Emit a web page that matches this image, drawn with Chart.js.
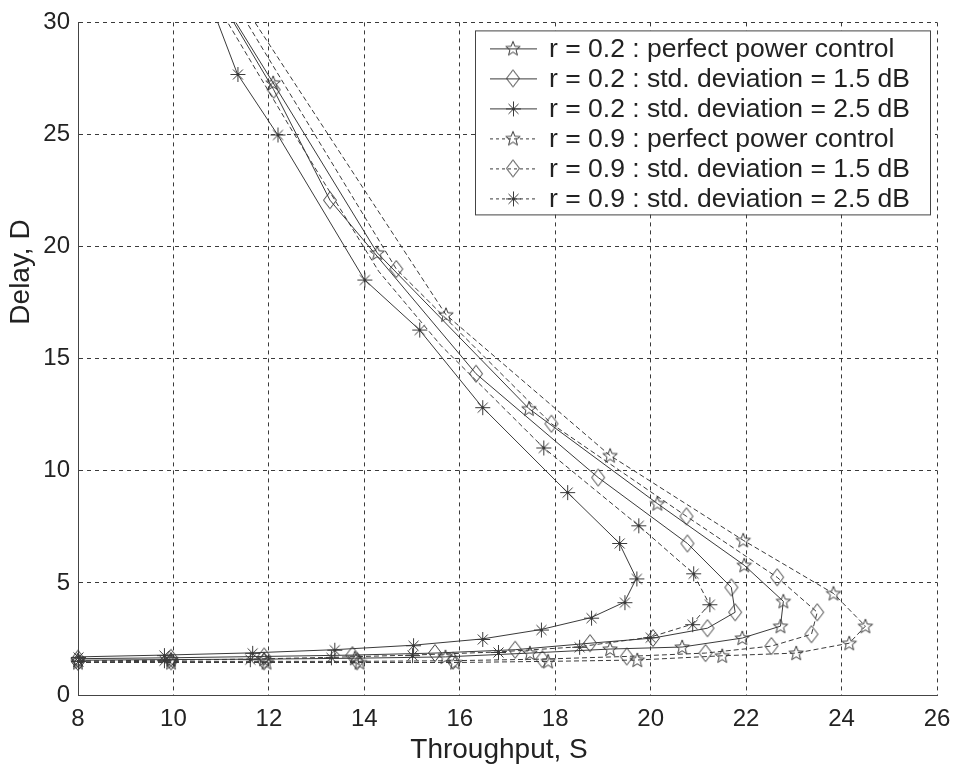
<!DOCTYPE html>
<html lang="en">
<head>
<meta charset="UTF-8">
<title>Throughput vs delay</title>
<style>
  body { margin: 0; background: #fff; }
  #wrap { width: 955px; height: 768px; }
</style>
</head>
<body>
<div id="wrap"><canvas id="chart" width="955" height="768"></canvas></div>
<script src="https://cdn.jsdelivr.net/npm/chart.js"></script>
<script>
// throughput S (x) and delay D (y) for each curve
// r = 0.2 : perfect power control
const sA = [8.0, 9.95, 11.9, 13.8, 15.7, 17.47, 19.15, 20.66, 21.92, 22.72, 22.78, 21.96, 20.14, 17.45, 14.27, 12.09, 10.9];
const dA = [1.55, 1.58, 1.6, 1.64, 1.7, 1.87, 2.05, 2.14, 2.54, 3.07, 4.18, 5.79, 8.54, 12.77, 19.72, 27.3, 31.4];
// r = 0.2 : std. deviation = 1.5 dB
const sB = [8.0, 9.95, 11.9, 13.75, 15.48, 17.16, 18.73, 20.05, 21.19, 21.77, 21.69, 20.77, 18.9, 16.34, 13.28, 12.1, 10.9];
const dB = [1.62, 1.66, 1.72, 1.78, 1.87, 2.02, 2.31, 2.54, 2.98, 3.69, 4.8, 6.76, 9.7, 14.33, 22.07, 27.0, 31.3];
// r = 0.2 : std. deviation = 2.5 dB
const sC = [8.0, 9.8, 11.65, 13.37, 15.02, 16.47, 17.7, 18.75, 19.45, 19.7, 19.34, 18.25, 16.47, 15.15, 14.0, 12.18, 11.34, 10.75];
const dC = [1.7, 1.78, 1.88, 2.02, 2.22, 2.5, 2.92, 3.45, 4.14, 5.2, 6.78, 9.05, 12.84, 16.3, 18.53, 25.0, 27.7, 31.0];
// r = 0.9 : perfect power control
const sD = [8.0, 9.95, 11.95, 13.9, 15.9, 17.85, 19.72, 21.5, 23.05, 24.16, 24.5, 23.83, 21.94, 19.15, 15.71, 11.4];
const dD = [1.45, 1.45, 1.45, 1.45, 1.45, 1.5, 1.56, 1.75, 1.87, 2.31, 3.07, 4.53, 6.9, 10.68, 16.96, 31.0];
// r = 0.9 : std. deviation = 1.5 dB
const sE = [8.0, 9.95, 11.9, 13.85, 15.86, 17.73, 19.5, 21.15, 22.53, 23.37, 23.49, 22.65, 20.75, 17.92, 14.67, 11.25];
const dE = [1.48, 1.5, 1.5, 1.5, 1.53, 1.6, 1.72, 1.87, 2.18, 2.71, 3.69, 5.25, 7.97, 12.1, 19.0, 31.0];
// r = 0.9 : std. deviation = 2.5 dB
const sF = [8.0, 9.8, 11.6, 13.3, 15.0, 16.8, 18.5, 19.99, 20.87, 21.23, 20.89, 19.74, 17.75, 15.6, 14.3, 12.45, 10.8];
const dF = [1.52, 1.55, 1.6, 1.68, 1.78, 1.92, 2.15, 2.58, 3.16, 4.05, 5.43, 7.57, 11.04, 15.6, 18.9, 25.3, 31.2];

const seriesNames = [
    'r = 0.2 : perfect power control',
    'r = 0.2 : std. deviation = 1.5 dB',
    'r = 0.2 : std. deviation = 2.5 dB',
    'r = 0.9 : perfect power control',
    'r = 0.9 : std. deviation = 1.5 dB',
    'r = 0.9 : std. deviation = 2.5 dB'
];
const xTitle = 'Throughput, S';
const yTitle = 'Delay, D';

const FONT = '"Liberation Sans", Arial, sans-serif';
const INK = '#3a3a3a';

// matlab-like hollow markers drawn into small canvases
function makeMarker(kind) {
    const c = document.createElement('canvas');
    c.width = 20; c.height = 20;
    const g = c.getContext('2d');
    g.strokeStyle = INK;
    g.lineWidth = 1;
    g.beginPath();
    if (kind === 'star') {
        for (let i = 0; i < 10; i++) {
            const r = i % 2 ? 3.2 : 7.6;
            const a = -Math.PI / 2 + i * Math.PI / 5;
            const x = 10 + r * Math.cos(a), y = 10.5 + r * Math.sin(a);
            if (i === 0) g.moveTo(x, y); else g.lineTo(x, y);
        }
        g.closePath();
    } else if (kind === 'diamond') {
        g.moveTo(10, 1.5); g.lineTo(16.5, 10); g.lineTo(10, 18.5); g.lineTo(3.5, 10);
        g.closePath();
    } else {
        g.moveTo(10.5, 3); g.lineTo(10.5, 18);
        g.moveTo(3, 10.5); g.lineTo(18, 10.5);
        g.moveTo(5.5, 5.5); g.lineTo(15.5, 15.5);
        g.moveTo(15.5, 5.5); g.lineTo(5.5, 15.5);
    }
    g.stroke();
    return c;
}
const markers = { star: makeMarker('star'), diamond: makeMarker('diamond'), asterisk: makeMarker('asterisk') };

function pts(xs, ys) {
    return xs.map((x, i) => ({ x: x, y: ys[i] }));
}

const styles = [
    { m: 'star', dash: [], bare: [] },
    { m: 'diamond', dash: [], bare: [] },
    { m: 'asterisk', dash: [], bare: [] },
    { m: 'star', dash: [5, 3], bare: [] },
    { m: 'diamond', dash: [5, 3], bare: [] },
    { m: 'asterisk', dash: [5, 3], bare: [13, 14, 15] }   // hidden under the other curves
];
const curves = [[sA, dA], [sB, dB], [sC, dC], [sD, dD], [sE, dE], [sF, dF]];

const datasets = curves.map((c, i) => ({
    label: seriesNames[i],
    data: pts(c[0], c[1]),
    showLine: true,
    borderColor: INK,
    borderWidth: 1,
    borderDash: styles[i].dash,
    backgroundColor: 'transparent',
    pointStyle: markers[styles[i].m],
    pointRadius: p => (styles[i].bare.includes(p.dataIndex) || p.dataIndex === c[0].length - 1) ? 0 : 8,
    pointHoverRadius: 8,
    tension: 0,
    clip: { left: 12, right: 0, top: 0, bottom: 12 }
}));

// legend box and axis titles
const decorPlugin = {
    id: 'decor',
    afterDraw(chart) {
        const ctx = chart.ctx;
        const area = chart.chartArea;
        ctx.save();
        // legend
        const bx = area.right - 462, by = area.top + 8, bw = 455, bh = 184;
        ctx.fillStyle = '#fff';
        ctx.fillRect(bx, by, bw, bh);
        ctx.strokeStyle = '#444';
        ctx.lineWidth = 1;
        ctx.setLineDash([]);
        ctx.strokeRect(bx + 0.5, by + 0.5, bw, bh);
        ctx.font = '26.5px ' + FONT;
        ctx.textBaseline = 'middle';
        ctx.textAlign = 'left';
        seriesNames.forEach((name, i) => {
            const y = by + 18 + i * 30;
            ctx.strokeStyle = INK;
            ctx.setLineDash(styles[i].dash.length ? [3, 3] : []);
            ctx.beginPath();
            ctx.moveTo(bx + 15, y + 0.5);
            ctx.lineTo(bx + 62, y + 0.5);
            ctx.stroke();
            const mk = markers[styles[i].m];
            ctx.drawImage(mk, bx + 38 - mk.width / 2, y - mk.height / 2);
            ctx.fillStyle = '#222';
            ctx.fillText(name, bx + 74, y + 1);
        });
        ctx.setLineDash([]);
        // axis titles
        ctx.fillStyle = '#222';
        ctx.font = '28px ' + FONT;
        ctx.textAlign = 'center';
        ctx.fillText(xTitle, 499, 750);
        ctx.translate(21, 272);
        ctx.rotate(-Math.PI / 2);
        ctx.fillText(yTitle, 0, 0);
        ctx.restore();
    }
};

const ctx = document.getElementById('chart').getContext('2d');
new Chart(ctx, {
    type: 'scatter',
    data: { datasets: datasets },
    options: {
        responsive: false,
        animation: false,
        events: [],
        layout: { padding: { top: 21, right: 0, left: 0, bottom: 0 } },
        plugins: { legend: { display: false }, tooltip: { enabled: false } },
        scales: {
            x: {
                type: 'linear',
                min: 8, max: 26,
                afterFit: s => { s.height = 73; s.paddingRight = 18; s.paddingLeft = 0; },
                ticks: { stepSize: 2, color: '#222', font: { size: 24, family: FONT }, padding: 10, maxRotation: 0 },
                grid: { color: '#3a3a3a', lineWidth: 1, drawTicks: false },
                border: { display: true, color: '#444', width: 1, dash: [4, 4] }
            },
            y: {
                type: 'linear',
                min: 0, max: 30,
                afterFit: s => { s.width = 78; },
                ticks: { stepSize: 5, color: '#222', font: { size: 24, family: FONT }, padding: 8 },
                grid: { color: '#3a3a3a', lineWidth: 1, drawTicks: false },
                border: { display: true, color: '#444', width: 1, dash: [4, 4] }
            }
        }
    },
    plugins: [decorPlugin]
});
</script>
</body>
</html>
